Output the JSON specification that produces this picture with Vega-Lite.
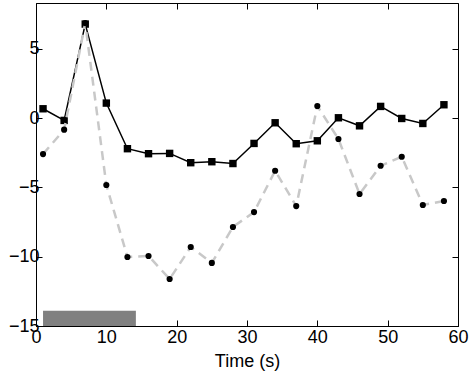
{
  "$schema": "https://vega.github.io/schema/vega-lite/v6.json",
  "width": 422,
  "height": 323,
  "autosize": {"type": "none"},
  "padding": {"left": 36, "top": 3, "right": 14, "bottom": 51},
  "background": "white",
  "config": {
    "view": {"stroke": "black", "strokeWidth": 1},
    "font": "Liberation Sans",
    "axis": {
      "labelFont": "Liberation Sans",
      "labelFontSize": 18,
      "labelColor": "black",
      "titleFont": "Liberation Sans",
      "titleFontSize": 18,
      "titleFontWeight": "normal",
      "titleColor": "black",
      "domainColor": "black",
      "tickColor": "black",
      "grid": false
    }
  },
  "datasets": {
    "series": [
      {"t": 1, "cond": 0.67, "ctrl": -2.6},
      {"t": 4, "cond": -0.17, "ctrl": -0.84},
      {"t": 7, "cond": 6.78, "ctrl": 6.85},
      {"t": 10, "cond": 1.08, "ctrl": -4.83},
      {"t": 13, "cond": -2.21, "ctrl": -10.02},
      {"t": 16, "cond": -2.57, "ctrl": -9.95},
      {"t": 19, "cond": -2.55, "ctrl": -11.61},
      {"t": 22, "cond": -3.22, "ctrl": -9.3},
      {"t": 25, "cond": -3.15, "ctrl": -10.45},
      {"t": 28, "cond": -3.28, "ctrl": -7.86},
      {"t": 31, "cond": -1.83, "ctrl": -6.78},
      {"t": 34, "cond": -0.34, "ctrl": -3.8},
      {"t": 37, "cond": -1.85, "ctrl": -6.35},
      {"t": 40, "cond": -1.64, "ctrl": 0.87},
      {"t": 43, "cond": 0.02, "ctrl": -1.51},
      {"t": 46, "cond": -0.56, "ctrl": -5.48},
      {"t": 49, "cond": 0.84, "ctrl": -3.44},
      {"t": 52, "cond": -0.03, "ctrl": -2.79},
      {"t": 55, "cond": -0.39, "ctrl": -6.27},
      {"t": 58, "cond": 0.96, "ctrl": -5.98}
    ],
    "stim": [{"start": 1, "end": 14.2, "lo": -15, "hi": -13.9}]
  },
  "layer": [
    {
      "data": {"name": "stim"},
      "mark": {"type": "rect", "color": "#808080"},
      "encoding": {
        "x": {"field": "start", "type": "quantitative", "scale": {"domain": [0, 60], "nice": false},
          "axis": {"orient": "bottom", "values": [0, 10, 20, 30, 40, 50, 60], "title": "Time (s)", "tickSize": -6, "labelPadding": 8, "titlePadding": 6, "labelFlush": false}},
        "x2": {"field": "end"},
        "y": {"field": "lo", "type": "quantitative", "scale": {"domain": [-15, 8.3], "nice": false},
          "axis": {"orient": "left", "values": [-15, -10, -5, 0, 5], "title": null, "tickSize": -6, "labelPadding": 3, "labelFlush": false}},
        "y2": {"field": "hi"}
      }
    },
    {
      "data": {"name": "series"},
      "mark": {"type": "line", "color": "black", "strokeWidth": 1.5},
      "encoding": {
        "x": {"field": "t", "type": "quantitative",
          "axis": {"orient": "top", "values": [0, 10, 20, 30, 40, 50, 60], "labels": false, "title": null, "tickSize": -6, "domain": false}},
        "y": {"field": "cond", "type": "quantitative",
          "axis": {"orient": "right", "values": [-15, -10, -5, 0, 5], "labels": false, "title": null, "tickSize": -6, "domain": false}}
      }
    },
    {
      "data": {"name": "series"},
      "mark": {"type": "point", "shape": "square", "filled": true, "color": "black", "size": 55, "opacity": 1},
      "encoding": {
        "x": {"field": "t", "type": "quantitative", "axis": null},
        "y": {"field": "cond", "type": "quantitative", "axis": null}
      }
    },
    {
      "data": {"name": "series"},
      "mark": {"type": "line", "color": "#c8c8c8", "strokeWidth": 2.5, "strokeDash": [9, 6]},
      "encoding": {
        "x": {"field": "t", "type": "quantitative", "axis": null},
        "y": {"field": "ctrl", "type": "quantitative", "axis": null}
      }
    },
    {
      "data": {"name": "series"},
      "mark": {"type": "point", "shape": "circle", "filled": true, "color": "black", "size": 38, "opacity": 1},
      "encoding": {
        "x": {"field": "t", "type": "quantitative", "axis": null},
        "y": {"field": "ctrl", "type": "quantitative", "axis": null}
      }
    }
  ],
  "resolve": {"axis": {"x": "independent", "y": "independent"}}
}
